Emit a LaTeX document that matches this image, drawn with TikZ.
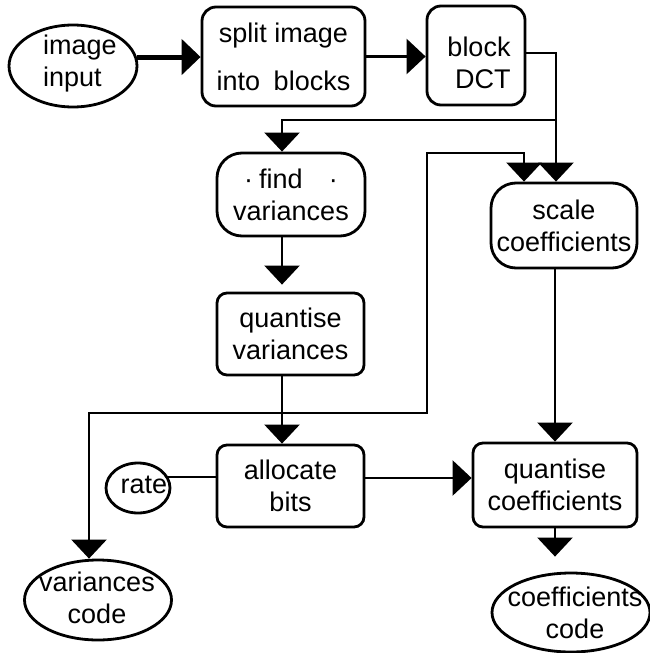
\documentclass[tikz,border=0pt]{standalone}
\usepackage{fontspec}
\setmainfont{Liberation Sans}
\usetikzlibrary{arrows.meta,shapes.geometric}
\begin{document}
\begin{tikzpicture}[x=1pt,y=-1pt,
  txt/.style={font=\fontsize{27}{32}\selectfont, align=center, inner sep=0pt},
  box/.style={draw, line width=2.8pt, rounded corners=#1, inner sep=0pt, font=\fontsize{27}{32}\selectfont, align=center},
  box/.default=12pt,
  oval/.style={draw, ellipse, line width=2.8pt, inner sep=0pt},
  conn/.style={line width=2.4pt},
  arr/.style={line width=2.4pt, -{Triangle[width=35pt,length=19pt]}},
]
\useasboundingbox (0,0) rectangle (650,653);
% nodes
\node[oval, minimum width=128pt, minimum height=82pt] (inp) at (73,66) {};
\node[txt, anchor=west, align=left] (inpt) at (43,64) {image\\input};
\node[box=14pt, minimum width=163pt, minimum height=99pt, font=\fontsize{27}{48}\selectfont] (split) at (283.5,56.5) {split image\\into\hspace{0.5em}blocks};
\node[box=14pt, minimum width=98pt, minimum height=99pt] (dct) at (476,55.5) {};
\node[txt, align=right] (dctt) at (479,63) {block\\DCT};
\node[box=25pt, minimum width=148pt, minimum height=83pt] (find) at (291,194.5) {·\hspace{6pt}find\hspace{26pt}·\\variances};
\node[box=10pt, minimum width=147pt, minimum height=82pt] (qvar) at (290.5,334) {quantise\\variances};
\node[box=25pt, minimum width=146pt, minimum height=85pt] (scale) at (564,225.5) {scale\\coefficients};
\node[box=10pt, minimum width=147pt, minimum height=82pt] (alloc) at (290.5,486) {allocate\\bits};
\node[box=10pt, minimum width=164pt, minimum height=84pt] (qcoef) at (555,485) {quantise\\coefficients};
\node[oval, minimum width=64pt, minimum height=50pt] (rate) at (138,488) {};
\node[txt] (ratet) at (144,485) {rate};
\node[oval, minimum width=147pt, minimum height=80pt] (varc) at (98,600) {};
\node[txt] (varct) at (97,598) {variances\\code};
\node[oval, minimum width=158pt, minimum height=79pt] (coefc) at (571,612.5) {};
\node[txt] (coefct) at (575,613) {coefficients\\code};
% junctions
\coordinate (j1) at (556,120);
\coordinate (j2) at (282,413);
\coordinate (c1) at (427,153);
% connectors
\draw[arr, line width=5pt] (inp.8) -- (inp.8 -| split.west);
\draw[arr] (split.east) -- (split.east -| dct.west);
\draw[arr] ([yshift=2.5pt]dct.east) -| (scale.north -| j1);
\draw[arr] (j1) -| ([xshift=-9pt]find.north);
\draw[arr, shorten >=7pt] ([xshift=-9pt]find.south) -- ([xshift=-8.5pt]qvar.north);
\draw[arr] ([xshift=-8.5pt]qvar.south) -- ([xshift=-8.5pt]alloc.north);
\draw[arr] (j2) -| (c1) -| ([xshift=-40pt]scale.north);
\draw[arr] (j2) -| ([xshift=-9pt]varc.north);
\draw[conn] (rate.20) -- (rate.20 -| alloc.west);
\draw[arr] ([yshift=8pt]alloc.east) -- ([yshift=8pt]alloc.east -| qcoef.west);
\draw[arr] (scale.south -| qcoef.north) -- (qcoef.north);
\draw[arr, shorten >=15pt] (qcoef.south) -- (qcoef.south |- coefc.north);
\end{tikzpicture}
\end{document}
